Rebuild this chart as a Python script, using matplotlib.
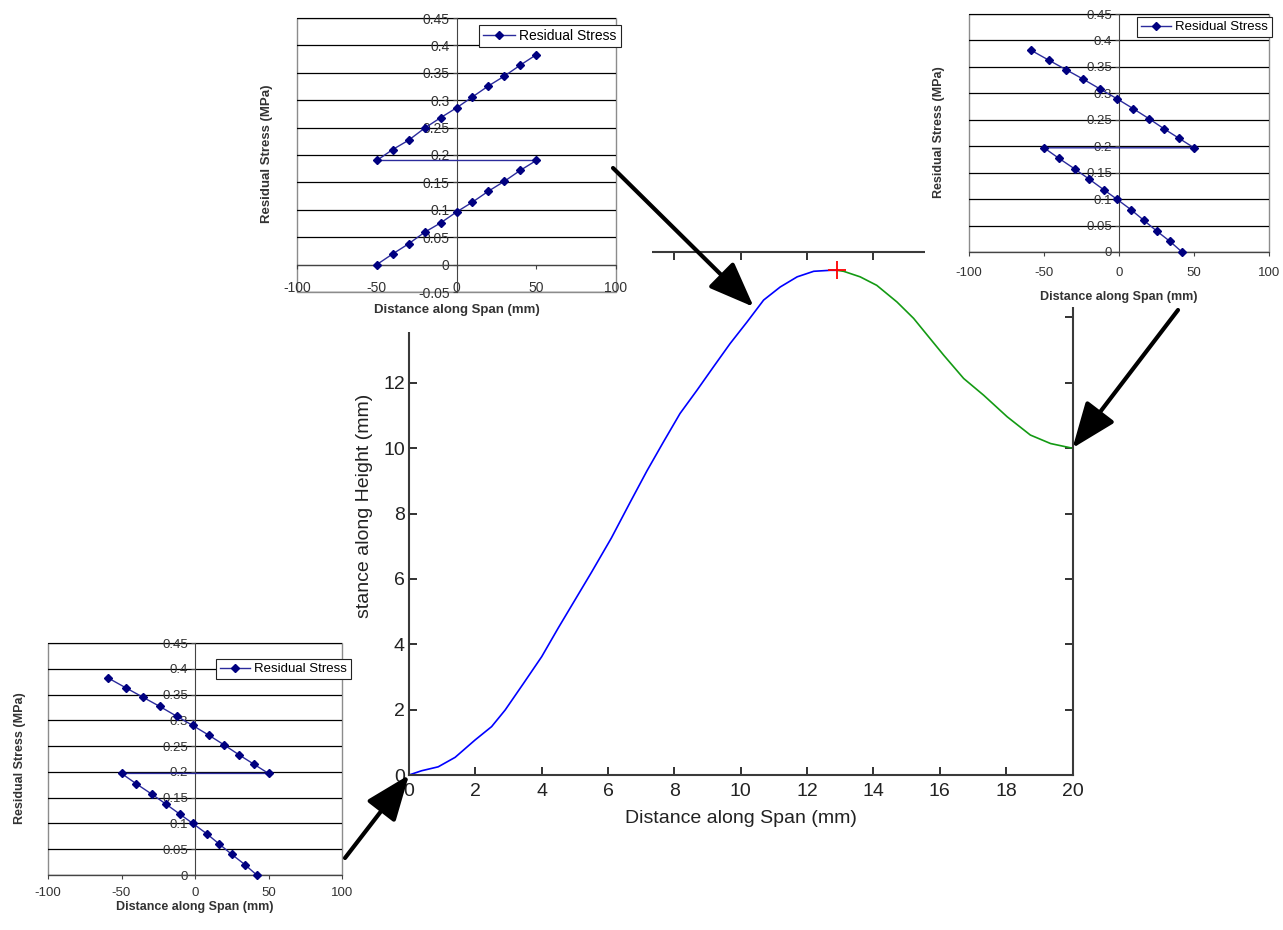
import matplotlib
matplotlib.use('Agg')
import matplotlib.pyplot as plt
from matplotlib.patches import Rectangle
from matplotlib.ticker import MultipleLocator, FuncFormatter

plt.rcParams['font.family'] = ['Liberation Sans', 'DejaVu Sans']
plt.rcParams['axes.unicode_minus'] = False

# main profile (mm)
rise_x = [0, 0.38, 0.88, 1.39, 1.99, 2.49, 2.9, 3.45, 4.0, 4.5, 5.0, 5.5, 6.1,
          6.67, 7.17, 7.67, 8.17, 8.68, 9.18, 9.68, 10.19, 10.69, 11.19, 11.7,
          12.2, 12.7, 12.9]
rise_y = [0, 0.13, 0.25, 0.54, 1.07, 1.48, 1.99, 2.8, 3.62, 4.5, 5.35, 6.2, 7.25,
          8.35, 9.3, 10.19, 11.06, 11.77, 12.49, 13.2, 13.86, 14.53, 14.93, 15.24,
          15.41, 15.44, 15.44]
fall_x = [12.9, 13.1, 13.6, 14.1, 14.71, 15.21, 15.62, 16.12, 16.72, 17.32, 18.03,
          18.73, 19.34, 19.94, 20]
fall_y = [15.44, 15.41, 15.24, 14.98, 14.47, 13.97, 13.46, 12.84, 12.13, 11.62, 10.96,
          10.4, 10.14, 10.01, 10.0]
peak = (12.9, 15.44)

# residual stress inset near the peak
peak_span = [-50, -40, -30, -20, -10, 0, 10, 20, 30, 40, 50,
             -50, -40, -30, -20, -10, 0, 10, 20, 30, 40, 50]
peak_stress = [0, 0.0195, 0.038, 0.059, 0.076, 0.096, 0.114, 0.134, 0.152, 0.172, 0.19,
               0.19, 0.21, 0.227, 0.249, 0.268, 0.286, 0.306, 0.326, 0.344, 0.364, 0.383]

# residual stress insets at the two ends
end_span = [-59, -47, -35.5, -24, -12.5, -1.5, 9.5, 20, 30, 40, 50,
            -50, -40, -29.5, -20, -10.3, -1.5, 8, 16.5, 25, 34, 42]
end_stress = [0.382, 0.363, 0.345, 0.327, 0.308, 0.29, 0.271, 0.252, 0.233, 0.215, 0.197,
              0.197, 0.177, 0.157, 0.138, 0.118, 0.1, 0.08, 0.06, 0.04, 0.02, 0]

W, H = 1283, 930
fig = plt.figure(figsize=(W / 100, H / 100), dpi=100, facecolor='white')


def px_rect(x0, y0, x1, y1):
    return [x0 / W, 1 - y1 / H, (x1 - x0) / W, (y1 - y0) / H]


# ---- main MATLAB-style plot
ax = fig.add_axes(px_rect(409, 252, 1072.5, 775), zorder=0)
ax.plot(rise_x, rise_y, color='#0000ff', lw=1.2)
ax.plot(fall_x, fall_y, color='#139a13', lw=1.2)
ax.plot(*peak, marker='+', color='red', ms=13, mew=1.3)
ax.set_xlim(0, 20)
ax.set_ylim(0, 16)
ax.xaxis.set_major_locator(MultipleLocator(2))
ax.yaxis.set_major_locator(MultipleLocator(2))
# labels above 12 sit under the pasted chart
ax.yaxis.set_major_formatter(FuncFormatter(lambda v, p: '' if v > 13 else '%g' % v))
ax.tick_params(direction='in', length=6, width=1.3, top=True, right=True,
               labelsize=14, colors='#222222')
ax.tick_params(axis='x', pad=6)
ax.tick_params(axis='y', pad=3)
for s in ax.spines.values():
    s.set_color('#3a3a3a')
    s.set_linewidth(1.5)
ax.set_xlabel('Distance along Span (mm)', fontsize=14, color='#222222')
ax.xaxis.set_label_coords(0.5, -0.067)
ax.set_ylabel('stance along Height (mm)', fontsize=14, color='#222222')
ax.yaxis.set_label_coords(-0.054, 0.515)

# ---- white backgrounds of the pasted Excel charts
cover = fig.add_axes([0, 0, 1, 1], zorder=1)
cover.set_xlim(0, W)
cover.set_ylim(H, 0)
cover.axis('off')
cover.patch.set_alpha(0)
for x0, y0, x1, y1 in [(250, 0, 652, 332), (925, 0, W, 307), (0, 622, 378, H)]:
    cover.add_patch(Rectangle((x0, y0), x1 - x0, y1 - y0, color='white', lw=0))

navy = '#000080'
fmt = FuncFormatter(lambda v, p: '%g' % round(v, 2))


def stress_inset(box, x, y, ylo, fs, lfs, xpad, leg_at, xlab_y, ylab_x):
    a = fig.add_axes(px_rect(*box), zorder=2)
    a.patch.set_alpha(0)
    a.plot(x, y, color='#2b2b9c', lw=1, marker='D', ms=3.6, mfc=navy, mec=navy,
           label='Residual Stress', clip_on=False, zorder=3)
    a.set_xlim(-100, 100)
    a.set_ylim(ylo, 0.45)
    a.xaxis.set_major_locator(MultipleLocator(50))
    a.yaxis.set_major_locator(MultipleLocator(0.05))
    a.yaxis.set_major_formatter(fmt)
    a.grid(axis='y', color='black', lw=0.9)
    a.spines['left'].set_position(('data', 0))
    a.spines['bottom'].set_position(('data', 0))
    a.spines['left'].set_color('#444444')
    a.spines['bottom'].set_color('#444444')
    a.spines['top'].set_visible(False)
    a.spines['right'].set_visible(False)
    a.add_patch(Rectangle((0, 0), 1, 1, transform=a.transAxes, fill=False,
                          ec='#8c8c8c', lw=1, clip_on=False))
    a.tick_params(direction='out', length=3, width=0.8, labelsize=fs,
                  colors='#444444', labelcolor='#333333')
    a.tick_params(axis='x', pad=xpad)
    a.tick_params(axis='y', pad=2)
    a.set_xlabel('Distance along Span (mm)', fontsize=lfs, fontweight='bold',
                 color='#333333')
    a.xaxis.set_label_coords(0.5, xlab_y)
    a.set_ylabel('Residual Stress (MPa)', fontsize=lfs, fontweight='bold',
                 color='#333333')
    a.yaxis.set_label_coords(ylab_x, 0.505)
    leg = a.legend(loc='upper left', bbox_to_anchor=leg_at, borderaxespad=0,
                   fontsize=fs, fancybox=False, framealpha=1, edgecolor='#222222',
                   borderpad=0.3, handlelength=2.3, handletextpad=0.3)
    leg.get_frame().set_linewidth(0.8)
    return a


stress_inset((297, 18, 616, 292), peak_span, peak_stress, -0.05, 10, 9.5, 9,
             (0.57, 0.974), -0.044, -0.075)
stress_inset((969, 14, 1269, 252), end_span, end_stress, 0, 9.5, 9, 7.8,
             (0.56, 0.987), -0.164, -0.08)
stress_inset((48, 643, 342, 875), end_span, end_stress, 0, 9.5, 9, 5.6,
             (0.571, 0.931), -0.112, -0.075)

# ---- arrows from each inset to its point on the profile
top = fig.add_axes([0, 0, 1, 1], zorder=4)
top.set_xlim(0, W)
top.set_ylim(H, 0)
top.axis('off')
top.patch.set_alpha(0)
arrow = dict(arrowstyle='-|>,head_length=1.4,head_width=0.55', color='black',
             lw=3, mutation_scale=20, shrinkA=0, shrinkB=0)
for tip, start in [((10.39, 14.32), (613, 168)), ((20, 10), (1178, 310)),
                   ((0, 0), (345, 858))]:
    top.annotate('', xy=tip, xycoords=ax.transData, xytext=start,
                 textcoords=top.transData, arrowprops=arrow)

fig.savefig('out.png', dpi=100, facecolor='white')
